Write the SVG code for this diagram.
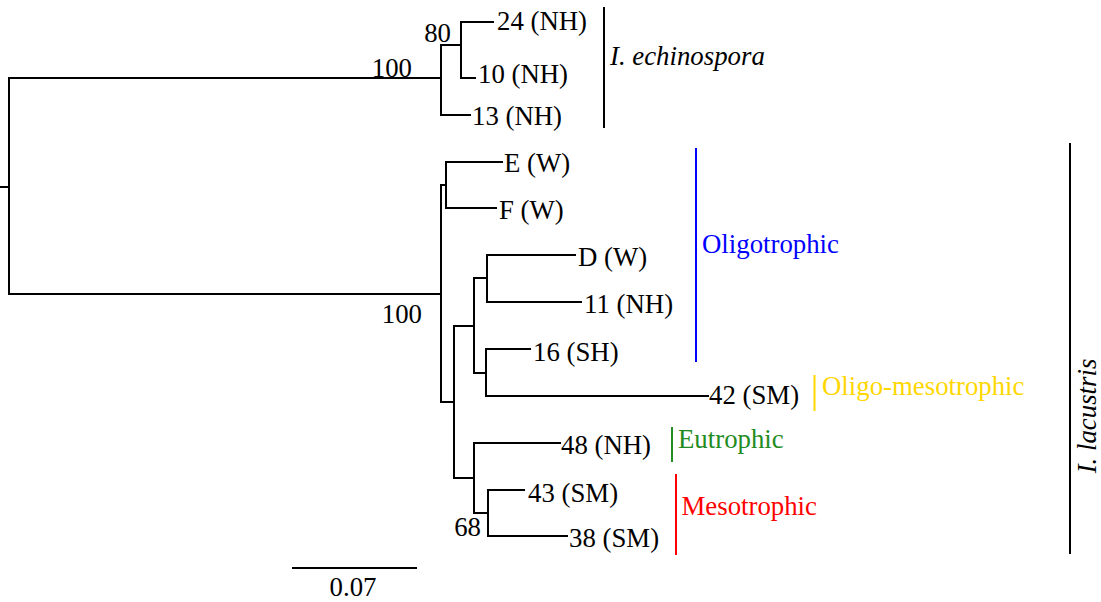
<svg xmlns="http://www.w3.org/2000/svg" width="1101" height="602" viewBox="0 0 1101 602">
  <style>
    .br { fill: none; stroke: #000; stroke-width: 2; stroke-linecap: square; }
    .bar { fill: none; stroke-width: 2; }
    text { font-family: "Liberation Serif", "Times New Roman", serif; font-size: 26.8px; fill: #000; }
    .it { font-style: italic; }
    .sup { text-anchor: end; }
  </style>
  <rect width="1101" height="602" fill="#fff"/>

  <!-- branches -->
  <g id="connectors">
    <!-- root -->
    <path class="br" d="M1,187 H9 M441,78 H9 V294 H441"/>
    <!-- I. echinospora clade -->
    <path class="br" d="M441,45 V115 H470 M441,45 H461 M493,22 H461 V78 H475"/>
    <!-- I. lacustris clade -->
    <path class="br" d="M441,185 V402 H454 M441,185 H446 M502,162 H446 V208 H496"/>
    <path class="br" d="M454,326 V478 H474 M454,326 H474 M474,278 V373 H486 M474,278 H487"/>
    <path class="br" d="M575,255 H487 V302 H581 M530,349 H486 V396 H708"/>
    <path class="br" d="M560,443 H474 V513 H488 M524,490 H488 V536 H567"/>
  </g>

  <!-- support values -->
  <g id="support">
    <text class="sup" x="412" y="76.5">100</text>
    <text class="sup" x="451" y="41.5">80</text>
    <text class="sup" x="422" y="323">100</text>
    <text class="sup" x="481" y="536">68</text>
  </g>

  <!-- tips -->
  <g id="tip-24"><text x="497" y="30">24 (NH)</text></g>
  <g id="tip-10"><text x="478" y="83">10 (NH)</text></g>
  <g id="tip-13"><text x="472" y="125">13 (NH)</text></g>
  <g id="tip-E"><text x="504" y="172">E (W)</text></g>
  <g id="tip-F"><text x="499" y="219">F (W)</text></g>
  <g id="tip-D"><text x="578" y="266">D (W)</text></g>
  <g id="tip-11"><text x="584" y="313">11 (NH)</text></g>
  <g id="tip-16"><text x="533" y="360.5">16 (SH)</text></g>
  <g id="tip-42"><text x="709" y="404">42 (SM)</text></g>
  <g id="tip-48"><text x="561" y="454">48 (NH)</text></g>
  <g id="tip-43"><text x="528" y="501.5">43 (SM)</text></g>
  <g id="tip-38"><text x="569" y="547">38 (SM)</text></g>

  <!-- species brackets -->
  <g id="clade-echinospora">
    <line class="bar" stroke="#000" x1="604" y1="7" x2="604" y2="128"/>
    <text class="it" x="610" y="65">I. echinospora</text>
  </g>
  <g id="clade-lacustris">
    <line class="bar" stroke="#000" x1="1070" y1="143" x2="1070" y2="554"/>
    <text class="it" transform="translate(1096,416) rotate(-90)" text-anchor="middle">I. lacustris</text>
  </g>

  <!-- trophic status brackets -->
  <g id="group-oligotrophic">
    <line class="bar" stroke="#0000ff" x1="696" y1="148" x2="696" y2="362"/>
    <text x="702" y="252.5" style="fill:#0000ff">Oligotrophic</text>
  </g>
  <g id="group-oligo-mesotrophic">
    <line class="bar" stroke="#ffd700" x1="814.5" y1="375" x2="814.5" y2="411"/>
    <text x="822" y="395" style="fill:#ffd700">Oligo-mesotrophic</text>
  </g>
  <g id="group-eutrophic">
    <line class="bar" stroke="#228b22" x1="672" y1="427" x2="672" y2="462"/>
    <text x="678" y="448" style="fill:#228b22">Eutrophic</text>
  </g>
  <g id="group-mesotrophic">
    <line class="bar" stroke="#ff0000" x1="676" y1="474" x2="676" y2="555"/>
    <text x="681.5" y="515" style="fill:#ff0000">Mesotrophic</text>
  </g>

  <!-- scale bar -->
  <g id="scale">
    <line stroke="#000" stroke-width="2" x1="292" y1="568" x2="417" y2="568"/>
    <text x="353" y="596" text-anchor="middle">0.07</text>
  </g>
</svg>
